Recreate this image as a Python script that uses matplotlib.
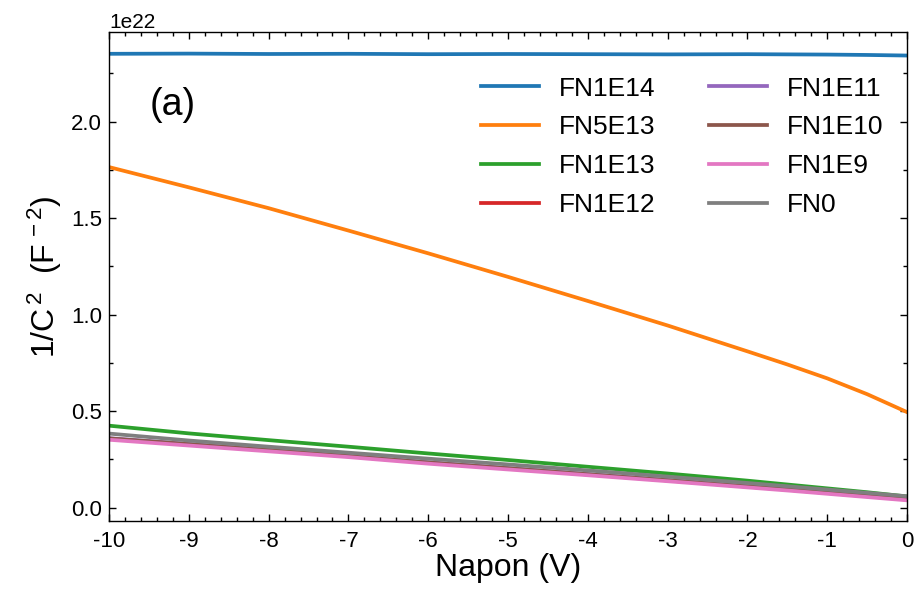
import matplotlib
matplotlib.use('Agg')
from matplotlib import pyplot as plt
from matplotlib.ticker import MultipleLocator
import numpy as np

plt.rcParams['font.family'] = ['Liberation Sans', 'DejaVu Sans']
plt.rcParams['mathtext.fontset'] = 'custom'
plt.rcParams['mathtext.rm'] = 'Liberation Sans'
plt.rcParams['mathtext.it'] = 'Liberation Sans'
plt.rcParams['axes.unicode_minus'] = False

# bias voltage (V)
napon = [-10, -9, -8, -7, -6, -5, -4, -3, -2, -1.5, -1, -0.5, 0]

# 1/C^2 in units of 1e22 F^-2
fn1e14 = [2.352, 2.353, 2.351, 2.352, 2.350, 2.351, 2.350, 2.349, 2.350, 2.349, 2.348, 2.346, 2.343]
fn5e13 = [1.765, 1.660, 1.552, 1.436, 1.318, 1.196, 1.071, 0.944, 0.810, 0.742, 0.670, 0.588, 0.495]
fn1e13 = [0.425, 0.385, 0.350, 0.316, 0.281, 0.247, 0.212, 0.177, 0.140, 0.120, 0.100, 0.080, 0.058]
fn1e12 = [0.357, 0.327, 0.297, 0.266, 0.233, 0.203, 0.172, 0.141, 0.109, 0.093, 0.076, 0.059, 0.042]
fn1e11 = [0.360, 0.330, 0.299, 0.268, 0.235, 0.205, 0.174, 0.143, 0.111, 0.095, 0.078, 0.061, 0.044]
fn1e10 = [0.359, 0.329, 0.298, 0.267, 0.234, 0.204, 0.173, 0.142, 0.110, 0.094, 0.077, 0.060, 0.043]
fn1e9 = [0.352, 0.322, 0.292, 0.262, 0.228, 0.198, 0.168, 0.137, 0.105, 0.089, 0.072, 0.055, 0.038]
fn0 = [0.384, 0.348, 0.316, 0.285, 0.254, 0.224, 0.193, 0.161, 0.128, 0.111, 0.094, 0.077, 0.059]

labels = ['FN1E14', 'FN5E13', 'FN1E13', 'FN1E12', 'FN1E11', 'FN1E10', 'FN1E9', 'FN0']
series = [fn1e14, fn5e13, fn1e13, fn1e12, fn1e11, fn1e10, fn1e9, fn0]

fig = plt.figure(figsize=(9.2, 6), dpi=100)
ax = fig.add_axes([0.1185, 0.132, 0.8675, 0.815])

x = np.array(napon)
for ys, lab in zip(series, labels):
    ax.plot(x, np.array(ys) * 1e22, lw=2.7, label=lab)

ax.set_xlim(-10, 0)
ax.set_ylim(-0.068e22, 2.466e22)
ax.xaxis.set_minor_locator(MultipleLocator(0.2))
ax.yaxis.set_major_locator(MultipleLocator(0.5e22))
ax.yaxis.set_minor_locator(MultipleLocator(0.25e22))
ax.set_xticks(range(-10, 1))
ax.set_xticklabels([str(v) for v in range(-10, 1)])

ax.tick_params(which='both', direction='in', top=True, right=True, labelsize=16, width=1)
ax.tick_params(which='major', length=5)
ax.tick_params(which='minor', length=3)
ax.tick_params(axis='x', pad=7)
ax.tick_params(axis='y', pad=5)
ax.yaxis.get_offset_text().set_fontsize(15)
for s in ax.spines.values():
    s.set_linewidth(1)

ax.set_xlabel('Napon (V)', fontsize=23, labelpad=1)
ax.set_ylabel(r'1/C$^{\,2}$  (F$^{\,-2}$)', fontsize=23, labelpad=5)
ax.text(0.051, 0.851, '(a)', transform=ax.transAxes, fontsize=27, va='center')

ax.legend(ncol=2, frameon=False, fontsize=19, loc='upper right',
          bbox_to_anchor=(1.0, 0.957), handlelength=2.2, handletextpad=0.76,
          columnspacing=2.0, labelspacing=0.56)

fig.savefig('out.png', dpi=100)
